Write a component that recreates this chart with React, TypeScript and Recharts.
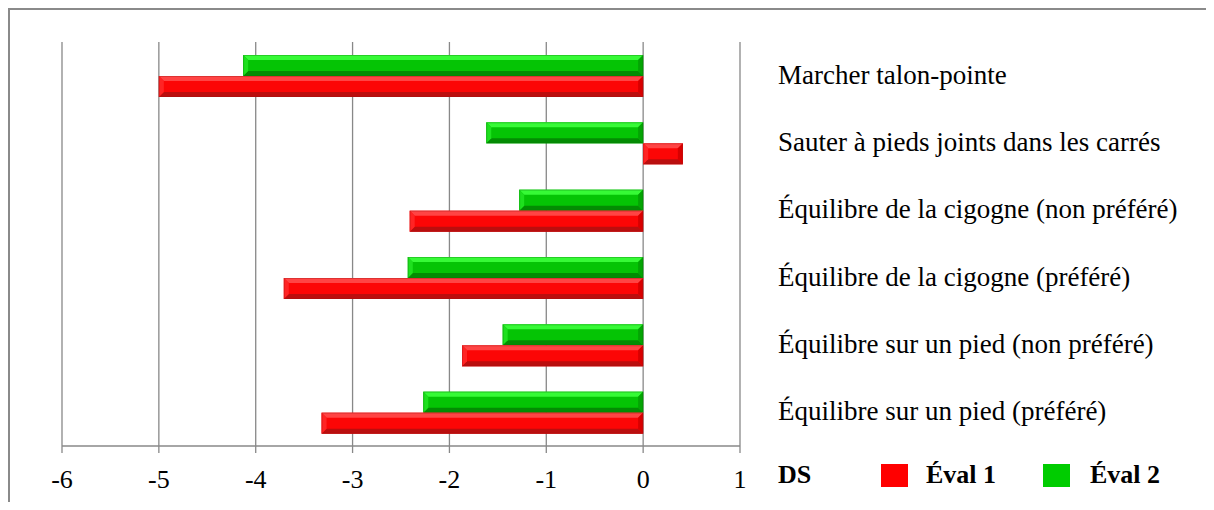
import React from 'react';
import { BarChart, Bar, XAxis, YAxis, CartesianGrid } from 'recharts';

const categories = [
  'Marcher talon-pointe',
  'Sauter à pieds joints dans les carrés',
  'Équilibre de la cigogne (non préféré)',
  'Équilibre de la cigogne (préféré)',
  'Équilibre sur un pied (non préféré)',
  'Équilibre sur un pied (préféré)',
];
const eval1 = [-5.0, 0.41, -2.41, -3.71, -1.87, -3.32];
const eval2 = [-4.13, -1.62, -1.28, -2.43, -1.45, -2.27];
const xTicks = [-6, -5, -4, -3, -2, -1, 0, 1];

const data = categories.map((name, i) => ({ name, eval1: eval1[i], eval2: eval2[i] }));

const RED = { main: '#fc0606', top: '#ff4444', left: '#ff2424', right: '#d80000', bottom: '#bb0e0e', edge: '#a01010' };
const GREEN = { main: '#05c405', top: '#36fa36', left: '#1ee01e', right: '#04a404', bottom: '#038c03', edge: '#0a7a0a' };

const FONT = 'Liberation Serif, Times New Roman, serif';

function BevelBar(props: any) {
  const { x, y, width, height, palette } = props;
  let x0 = x;
  let w = width;
  if (w < 0) {
    x0 = x + w;
    w = -w;
  }
  const h = height;
  if (!w || !h) return null;
  const b = Math.min(5, w / 2, h / 2);
  const x1 = x0 + w;
  const y1 = y + h;
  return (
    <g>
      <rect x={x0} y={y} width={w} height={h} fill={palette.main} />
      <polygon points={`${x0},${y} ${x1},${y} ${x1 - b},${y + b} ${x0 + b},${y + b}`} fill={palette.top} />
      <polygon points={`${x0},${y1} ${x1},${y1} ${x1 - b},${y1 - b} ${x0 + b},${y1 - b}`} fill={palette.bottom} />
      <polygon points={`${x0},${y} ${x0 + b},${y + b} ${x0 + b},${y1 - b} ${x0},${y1}`} fill={palette.left} />
      <polygon points={`${x1},${y} ${x1 - b},${y + b} ${x1 - b},${y1 - b} ${x1},${y1}`} fill={palette.right} />
      <rect x={x0 + 0.5} y={y + 0.5} width={w - 1} height={h - 1} fill="none" stroke={palette.edge} strokeOpacity={0.35} />
    </g>
  );
}

const legendText: React.CSSProperties = {
  position: 'absolute',
  top: 450,
  height: 30,
  lineHeight: '30px',
  fontFamily: FONT,
  fontWeight: 'bold',
  fontSize: 26,
  color: '#000',
  whiteSpace: 'nowrap',
};

const tickStyle = { fill: '#000', fontSize: 26, fontFamily: FONT, style: { fontFamily: FONT } };

export default function App() {
  return (
    <div
      style={{
        position: 'relative',
        width: 1206,
        height: 494,
        borderTop: '2px solid #8a8a8a',
        borderLeft: '2px solid #8a8a8a',
        boxSizing: 'border-box',
        background: '#fff',
        overflow: 'hidden',
        fontFamily: FONT,
      }}
    >
      <BarChart
        width={1204}
        height={492}
        data={data}
        layout="vertical"
        margin={{ top: 32, right: 0, bottom: 6, left: 52 }}
        barSize={21}
        barGap={0}
        style={{ fontFamily: FONT }}
      >
        <CartesianGrid horizontal={false} stroke="#888" strokeWidth={1.3} />
        <XAxis
          type="number"
          domain={[-6, 1]}
          ticks={xTicks}
          interval={0}
          height={50}
          tickSize={7}
          tickMargin={17}
          axisLine={{ stroke: '#888', strokeWidth: 1.3 }}
          tickLine={{ stroke: '#888', strokeWidth: 1.3 }}
          tick={tickStyle}
        />
        <YAxis
          type="category"
          dataKey="name"
          orientation="right"
          width={474}
          axisLine={false}
          tickLine={false}
          tickSize={0}
          tickMargin={38}
          tick={{ ...tickStyle, fontSize: 27, textAnchor: 'start', dy: -1.5 }}
        />
        <Bar dataKey="eval2" isAnimationActive={false} shape={(p: any) => <BevelBar {...p} palette={GREEN} />} />
        <Bar dataKey="eval1" isAnimationActive={false} shape={(p: any) => <BevelBar {...p} palette={RED} />} />
      </BarChart>
      <span style={{ ...legendText, left: 768 }}>DS</span>
      <span style={{ position: 'absolute', left: 871, top: 454, width: 27, height: 23, background: '#ff0000' }} />
      <span style={{ ...legendText, left: 916 }}>Éval 1</span>
      <span style={{ position: 'absolute', left: 1033, top: 454, width: 27, height: 23, background: '#00cc00' }} />
      <span style={{ ...legendText, left: 1080 }}>Éval 2</span>
    </div>
  );
}
